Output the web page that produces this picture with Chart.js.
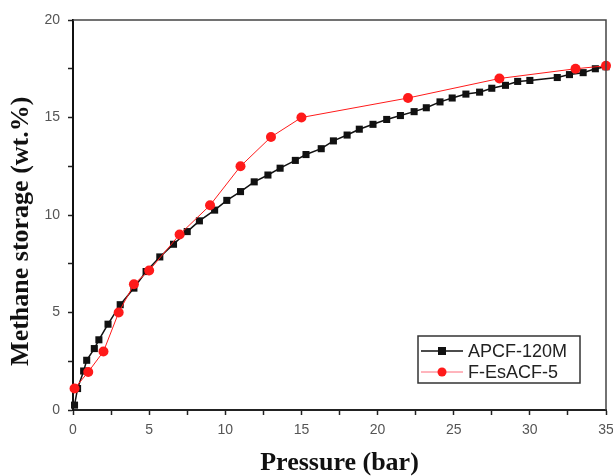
<!DOCTYPE html>
<html lang="en">

<head>
    <meta charset="UTF-8">
    <title>Methane storage vs pressure</title>
    <script src="https://cdn.jsdelivr.net/npm/chart.js"></script>
    <style>
        body { margin: 0; background: #fff; }
        .chart-container { position: relative; width: 613px; height: 476px; }
    </style>
</head>

<body>
    <div class="chart-container">
        <canvas id="methaneChart"></canvas>
    </div>

    <script>
        // APCF-120M (black squares)
        const apcfPressure = [0.1, 0.3, 0.7, 0.9, 1.4, 1.7, 2.3, 3.1, 4.0, 4.8, 5.7, 6.6, 7.5, 8.3, 9.3, 10.1, 11.0, 11.9,
            12.8, 13.6, 14.6, 15.3, 16.3, 17.1, 18.0, 18.8, 19.7, 20.6, 21.5, 22.4, 23.2, 24.1, 24.9, 25.8, 26.7, 27.5,
            28.4, 29.2, 30.0, 31.8, 32.6, 33.5, 34.3, 35.0];
        const apcfStorage = [0.25, 1.1, 2.0, 2.55, 3.15, 3.6, 4.4, 5.4, 6.25, 7.1, 7.85, 8.5, 9.15, 9.7, 10.25, 10.75, 11.2, 11.7,
            12.05, 12.4, 12.8, 13.1, 13.4, 13.8, 14.1, 14.4, 14.65, 14.9, 15.1, 15.3, 15.5, 15.8, 16.0, 16.2, 16.3, 16.5,
            16.65, 16.85, 16.9, 17.05, 17.2, 17.3, 17.5, 17.6];

        // F-EsACF-5 (red circles)
        const esacfPressure = [0.1, 1.0, 2.0, 3.0, 4.0, 5.0, 7.0, 9.0, 11.0, 13.0, 15.0, 22.0, 28.0, 33.0, 35.0];
        const esacfStorage = [1.1, 1.95, 3.0, 5.0, 6.45, 7.15, 9.0, 10.5, 12.5, 14.0, 15.0, 16.0, 17.0, 17.5, 17.65];

        const xTicks = [0, 5, 10, 15, 20, 25, 30, 35];
        const yTicks = [0, 5, 10, 15, 20];

        function toPoints(xs, ys) {
            return xs.map((x, i) => ({ x: x, y: ys[i] }));
        }

        // caixa al voltant de l'area + llegenda dins del grafic
        const boxPlugin = {
            id: 'boxPlugin',
            afterDraw(chart) {
                const { ctx, chartArea: a } = chart;
                ctx.save();
                ctx.strokeStyle = '#444';
                ctx.lineWidth = 1.5;
                ctx.beginPath();
                ctx.moveTo(a.left, a.top);
                ctx.lineTo(a.right, a.top);
                ctx.lineTo(a.right, a.bottom);
                ctx.stroke();

                // llegenda
                const lx = 418, ly = 336, lw = 162, lh = 47;
                ctx.fillStyle = '#fff';
                ctx.fillRect(lx, ly, lw, lh);
                ctx.strokeStyle = '#333';
                ctx.lineWidth = 1.5;
                ctx.strokeRect(lx, ly, lw, lh);

                const rows = [
                    { label: chart.data.datasets[1].label, color: '#111', lw: 1.5, y: 351, marker: 'rect' },
                    { label: chart.data.datasets[0].label, color: '#ff1a1a', lw: 1, y: 372, marker: 'circle' }
                ];
                rows.forEach(r => {
                    ctx.strokeStyle = r.color === '#111' ? '#111' : '#ff6b7a';
                    ctx.lineWidth = r.lw;
                    ctx.beginPath();
                    ctx.moveTo(421, r.y);
                    ctx.lineTo(463, r.y);
                    ctx.stroke();
                    ctx.fillStyle = r.color;
                    if (r.marker === 'rect') {
                        ctx.fillRect(438, r.y - 4, 8, 8);
                    } else {
                        ctx.beginPath();
                        ctx.arc(442, r.y, 4.5, 0, Math.PI * 2);
                        ctx.fill();
                    }
                    ctx.fillStyle = '#222';
                    ctx.font = '18px "Liberation Sans", Arial, sans-serif';
                    ctx.textBaseline = 'middle';
                    ctx.fillText(r.label, 468, r.y + 1);
                });
                ctx.restore();
            }
        };

        const ctx = document.getElementById('methaneChart').getContext('2d');
        const chart = new Chart(ctx, {
            type: 'line',
            data: {
                datasets: [{
                    label: 'F-EsACF-5',
                    data: toPoints(esacfPressure, esacfStorage),
                    borderColor: '#ff1a1a',
                    backgroundColor: '#ff1a1a',
                    borderWidth: 1,
                    pointStyle: 'circle',
                    pointRadius: 5,
                    pointBorderWidth: 0,
                    order: 0,
                    clip: false
                }, {
                    label: 'APCF-120M',
                    data: toPoints(apcfPressure, apcfStorage),
                    borderColor: '#111',
                    backgroundColor: '#111',
                    borderWidth: 1.5,
                    pointStyle: 'rect',
                    pointRadius: 5,
                    pointBorderWidth: 0,
                    order: 1,
                    clip: false
                }]
            },
            options: {
                responsive: true,
                maintainAspectRatio: false,
                animation: false,
                layout: { padding: { left: 0, right: 7, top: 20, bottom: 0 } },
                plugins: {
                    legend: { display: false },
                    tooltip: { enabled: false }
                },
                scales: {
                    x: {
                        type: 'linear',
                        min: 0,
                        max: 35,
                        afterFit: s => { s.height = 66; s.paddingRight = 0; s.paddingLeft = 0; },
                        afterBuildTicks: s => { s.ticks = []; for (let v = 0; v <= 35; v += 2.5) s.ticks.push({ value: v }); },
                        border: { color: '#222', width: 2 },
                        grid: { drawOnChartArea: false, tickLength: 5, tickColor: '#222', tickWidth: 1.5 },
                        ticks: {
                            padding: 7,
                            color: '#555',
                            font: { family: '"Liberation Sans", Arial, sans-serif', size: 14 },
                            maxRotation: 0,
                            autoSkip: false,
                            callback: v => xTicks.includes(v) ? String(v) : ''
                        },
                        title: {
                            display: true,
                            text: 'Pressure (bar)',
                            color: '#111',
                            font: { family: '"Liberation Serif", "Times New Roman", serif', size: 26, weight: 'bold', lineHeight: 1 },
                            padding: { top: 0, bottom: 0 }
                        }
                    },
                    y: {
                        type: 'linear',
                        min: 0,
                        max: 20,
                        afterFit: s => { s.width = 73; },
                        afterBuildTicks: s => { s.ticks = []; for (let v = 0; v <= 20; v += 2.5) s.ticks.push({ value: v }); },
                        border: { color: '#111', width: 2 },
                        grid: { drawOnChartArea: false, tickLength: 5, tickColor: '#222', tickWidth: 1.5 },
                        ticks: {
                            padding: 8,
                            color: '#555',
                            font: { family: '"Liberation Sans", Arial, sans-serif', size: 14 },
                            autoSkip: false,
                            callback: v => yTicks.includes(v) ? String(v) : ''
                        },
                        title: {
                            display: true,
                            text: 'Methane storage (wt.%)     ',
                            color: '#111',
                            font: { family: '"Liberation Serif", "Times New Roman", serif', size: 26, weight: 'bold', lineHeight: 1 },
                            padding: { top: 8, bottom: 0 }
                        }
                    }
                }
            },
            plugins: [boxPlugin]
        });
    </script>
</body>

</html>
